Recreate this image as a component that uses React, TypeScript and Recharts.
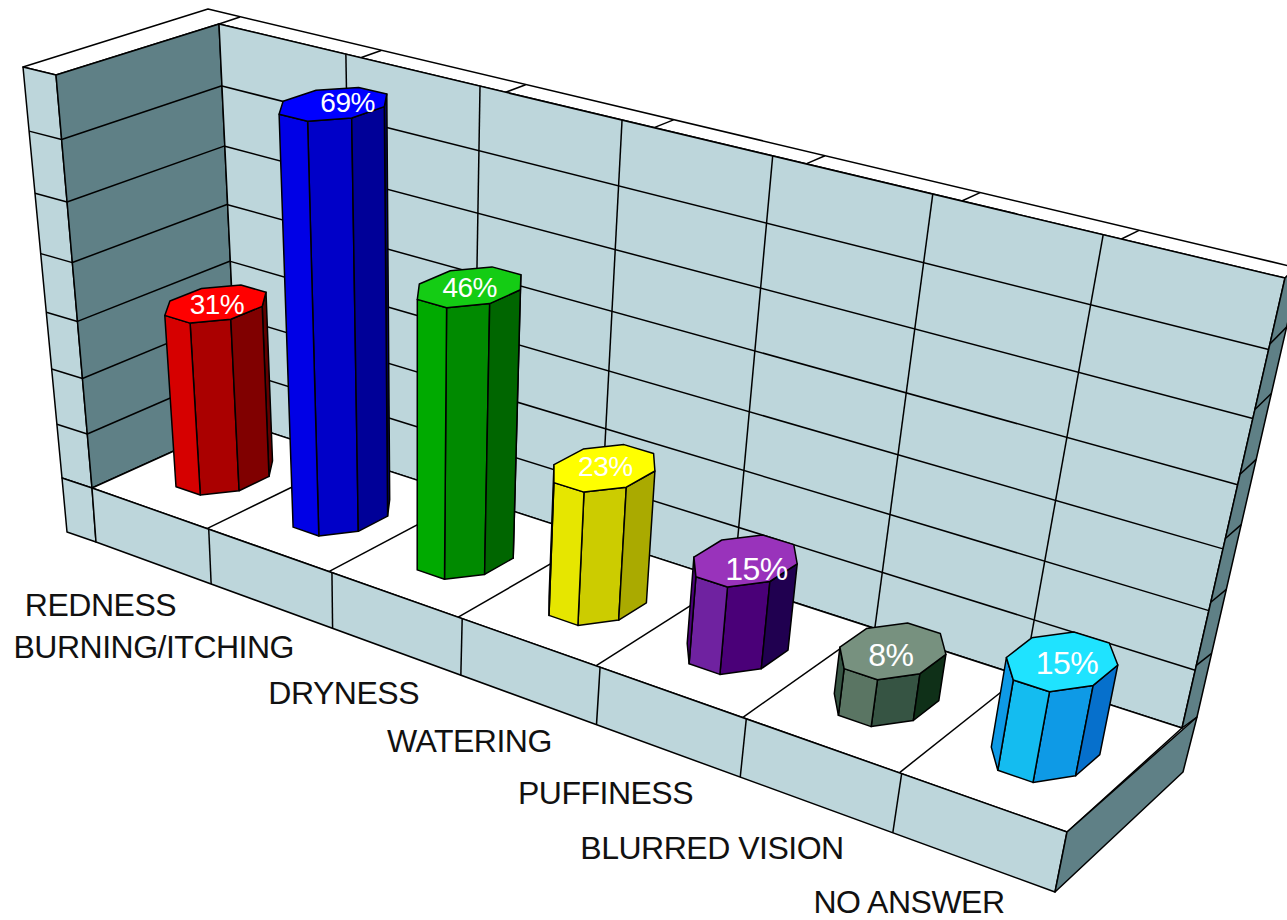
import React from 'react';
import { BarChart, Bar, XAxis, YAxis } from 'recharts';

const categories = ['REDNESS', 'BURNING/ITCHING', 'DRYNESS', 'WATERING', 'PUFFINESS', 'BLURRED VISION', 'NO ANSWER'];
const shares = [31, 69, 46, 23, 15, 8, 15];
const valueTicks = [0, 10, 20, 30, 40, 50, 60, 70];

const data = categories.map((name, i) => ({ name, share: shares[i] }));

const W = 1287;
const H = 920;
const AXIS_H = 1;
const FONT = '"Liberation Sans", Arial, sans-serif';
const WALL = '#bdd6db';
const SHADE = '#5f8086';
const INK = '#000';

// top, lit face, middle face, dark face, far sliver
const barColors = [
  ['#ff0000', '#d60000', '#aa0000', '#800000', '#600000'],
  ['#0000ff', '#0000e6', '#0000c8', '#000098', '#000070'],
  ['#14cc14', '#00aa00', '#008a00', '#006600', '#004a00'],
  ['#ffff00', '#e6e600', '#cccc00', '#aaaa00', '#888800'],
  ['#9933bb', '#6f22a0', '#4a0078', '#200050', '#180040'],
  ['#77917f', '#5a7563', '#365443', '#0f3018', '#0a2010'],
  ['#1fe3ff', '#14bcf0', '#0e9ae6', '#0670cc', '#0560b0'],
];
// the labels do not sit quite centred on the bar tops
const labelShift = [[1, 0], [14, -2], [0, 0], [1, -2], [11, 8], [-2, 4], [5, 1]];
const labelSize = [28, 28, 28, 28, 32, 32, 32];

type Pt = [number, number];

// maps the unit square to a screen quad: (0,0) p0, (1,0) p1, (1,1) p2, (0,1) p3
const quad = (p0: Pt, p1: Pt, p2: Pt, p3: Pt) => {
  const sx = p0[0] - p1[0] + p2[0] - p3[0];
  const sy = p0[1] - p1[1] + p2[1] - p3[1];
  const dx1 = p1[0] - p2[0];
  const dx2 = p3[0] - p2[0];
  const dy1 = p1[1] - p2[1];
  const dy2 = p3[1] - p2[1];
  const det = dx1 * dy2 - dx2 * dy1;
  const g = (sx * dy2 - dx2 * sy) / det;
  const h = (dx1 * sy - sx * dy1) / det;
  const a = p1[0] - p0[0] + g * p1[0];
  const b = p3[0] - p0[0] + h * p3[0];
  const d = p1[1] - p0[1] + g * p1[1];
  const e = p3[1] - p0[1] + h * p3[1];
  const at = (s: number, t: number): Pt => {
    const w = g * s + h * t + 1;
    return [(a * s + b * t + p0[0]) / w, (d * s + e * t + p0[1]) / w];
  };
  return { at, g, h, a, b, d, e, c: p0[0], f: p0[1] };
};

const floor = quad([238, 422], [1182, 728], [1067, 832], [92, 488]);
const backWall = quad([238, 422], [1182, 728], [1285, 278], [219, 24]);
const leftWall = quad([92, 488], [238, 422], [219, 24], [56, 75]);
const leftEdge = quad([62, 478], [92, 488], [56, 75], [23, 67]);
const topBand = quad([219, 24], [1285, 278], [1302, 269], [240, 17]);
const rightBand = quad([1182, 728], [1197, 717], [1302, 260], [1285, 278]);
const frontStrip = quad([92, 488], [1067, 832], [1055, 892], [96, 542]);

// camera: floor position (u, d) plus height h, h = 1 is the top of the wall
const VERT = [-40.1, -400.3, -0.0963];
const project = (u: number, d: number, h: number): Pt => {
  const w = floor.g * u + floor.h * d + 1 + VERT[2] * h;
  return [
    (floor.a * u + floor.b * d + floor.c + VERT[0] * h) / w,
    (floor.d * u + floor.e * d + floor.f + VERT[1] * h) / w,
  ];
};

const pts = (list: Pt[]) => list.map((p) => `${p[0].toFixed(1)},${p[1].toFixed(1)}`).join(' ');

const Poly = ({ points, fill }: { points: Pt[]; fill: string }) => (
  <polygon points={pts(points)} fill={fill} stroke={INK} strokeWidth={1.5} strokeLinejoin="round" />
);
const Seg = ({ a, b }: { a: Pt; b: Pt }) => (
  <line x1={a[0]} y1={a[1]} x2={b[0]} y2={b[1]} stroke={INK} strokeWidth={1.5} />
);

const cells = categories.map((_, i) => i / categories.length).slice(1);
const levels = valueTicks.slice(1, -1).map((v) => v / valueTicks[valueTicks.length - 1]);

const Walls = () => (
  <g>
    <Poly points={[[23, 67], [208, 9], [1302, 269], [1285, 278], [219, 24], [56, 75]]} fill="#fff" />
    <Seg a={[219, 24]} b={[240, 17]} />
    {cells.map((s) => <Seg key={s} a={topBand.at(s, 0)} b={topBand.at(s, 1)} />)}

    <Poly points={[[23, 67], [56, 75], [92, 488], [62, 478]]} fill={WALL} />
    <Poly points={[[62, 478], [92, 488], [96, 542], [67, 532]]} fill={WALL} />
    <Poly points={[[56, 75], [219, 24], [238, 422], [92, 488]]} fill={SHADE} />
    <Poly points={[[219, 24], [1285, 278], [1182, 728], [238, 422]]} fill={WALL} />
    <Poly points={[[1285, 278], [1302, 260], [1197, 717], [1182, 728]]} fill={SHADE} />

    {levels.map((t) => (
      <g key={t}>
        <Seg a={leftEdge.at(0, t)} b={leftEdge.at(1, t)} />
        <Seg a={leftWall.at(0, t)} b={leftWall.at(1, t)} />
        <Seg a={backWall.at(0, t)} b={backWall.at(1, t)} />
        <Seg a={rightBand.at(0, t)} b={rightBand.at(1, t)} />
      </g>
    ))}
    {cells.map((s) => <Seg key={s} a={backWall.at(s, 0)} b={backWall.at(s, 1)} />)}

    <Poly points={[[92, 488], [238, 422], [1182, 728], [1067, 832]]} fill="#fff" />
    {cells.map((s) => <Seg key={s} a={floor.at(s, 0)} b={floor.at(s, 1)} />)}

    <Poly points={[[92, 488], [1067, 832], [1055, 892], [96, 542]]} fill={WALL} />
    {cells.map((s) => <Seg key={s} a={frontStrip.at(s, 0)} b={frontStrip.at(s, 1)} />)}
    <Poly points={[[1067, 832], [1197, 717], [1183, 772], [1055, 892]]} fill={SHADE} />
  </g>
);

const TAN = Math.tan(Math.PI / 8);
const DEPTH = 0.25;
const BAR_NUDGE = 0.002;

const Prism = (props: any) => {
  const { x, width, height, payload } = props;
  const i = categories.indexOf(payload.name);
  const colors = barColors[i];
  const cu = (x + width / 2) / W + BAR_NUDGE;
  const hu = width / 2 / W;
  const h = (height / (H - AXIS_H)) * 0.992;
  // octagon, counter-clockwise in (u, d), starting on the +u side
  const ring: [number, number][] = [
    [1, TAN], [TAN, 1], [-TAN, 1], [-1, TAN], [-1, -TAN], [-TAN, -1], [TAN, -1], [1, -TAN],
  ];
  const base = ring.map(([a, b]) => project(cu + a * hu, 0.5 + b * DEPTH, 0));
  const top = ring.map(([a, b]) => project(cu + a * hu, 0.5 + b * DEPTH, h));
  // face k runs from ring[k] to ring[k + 1]
  const faceColor = [colors[2], colors[1], colors[2], colors[2], colors[2], colors[3], colors[4], colors[3]];
  const faces = ring.map((_, k) => {
    const n = (k + 1) % ring.length;
    const poly: Pt[] = [base[k], base[n], top[n], top[k]];
    let area = 0;
    poly.forEach((p, j) => {
      const q = poly[(j + 1) % 4];
      area += p[0] * q[1] - q[0] * p[1];
    });
    return area > 0 ? <Poly key={k} points={poly} fill={faceColor[k]} /> : null;
  });
  const centre = project(cu, 0.5, h);
  return (
    <g>
      {faces}
      <Poly points={top} fill={colors[0]} />
      <text
        x={centre[0] + labelShift[i][0]}
        y={centre[1] + labelShift[i][1] + labelSize[i] * 0.36}
        textAnchor="middle"
        fontFamily={FONT}
        fontSize={labelSize[i]}
        letterSpacing={-0.5}
        fill="#fff"
      >
        {`${payload.share}%`}
      </text>
    </g>
  );
};

const CategoryTick = (props: any) => {
  const { x, payload } = props;
  const u = x / W;
  const p = project(u * 1.012 + 0.02, 0.97, -0.24);
  // stay inside the picture: the last label sits right on the bottom edge
  const y = Math.min(p[1] + 16 - 8 * u, 913);
  return (
    <text x={p[0]} y={y} textAnchor="end" fontFamily={FONT} fontSize={32} letterSpacing={-0.5} fill="#111">
      {payload.value}
    </text>
  );
};

const App = () => (
  <div style={{ position: 'absolute', left: 0, top: 0, width: W, height: H, background: '#fff' }}>
    <BarChart width={W} height={H} data={data} margin={{ top: 0, right: 0, bottom: 0, left: 0 }} barCategoryGap="24.5%">
      <Walls />
      <XAxis dataKey="name" height={AXIS_H} interval={0} axisLine={false} tickLine={false} tick={CategoryTick} />
      <YAxis hide domain={[0, 70]} ticks={valueTicks} />
      <Bar dataKey="share" shape={Prism} isAnimationActive={false} />
    </BarChart>
  </div>
);

export default App;
